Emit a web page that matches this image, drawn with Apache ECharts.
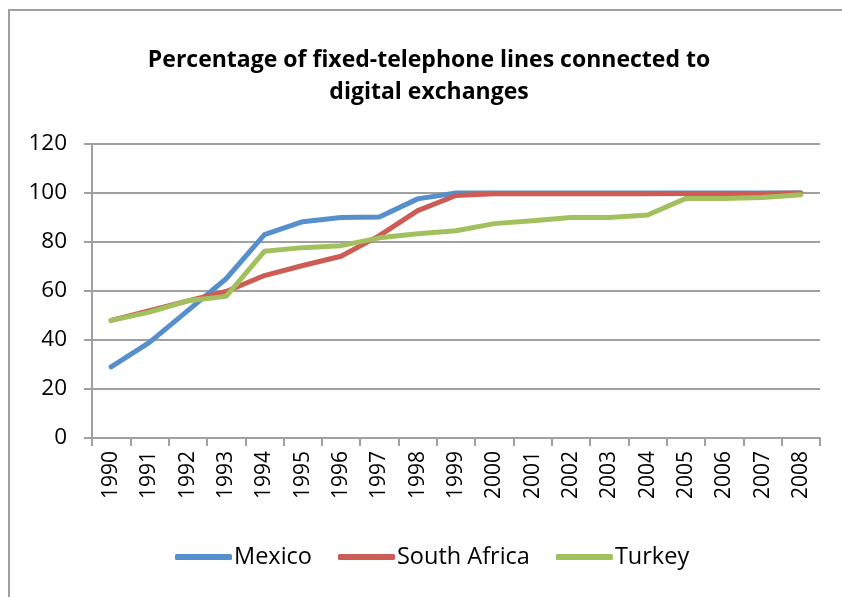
<!DOCTYPE html>
<html>
<head>
<meta charset="utf-8">
<script src="https://cdn.jsdelivr.net/npm/echarts@6/dist/echarts.min.js"></script>
<style>
  html, body { margin: 0; padding: 0; background: #fff; }
  #chart { width: 842px; height: 597px; }
</style>
</head>
<body>
<div id="chart"></div>
<script>
const years = ['1990', '1991', '1992', '1993', '1994', '1995', '1996', '1997', '1998', '1999',
  '2000', '2001', '2002', '2003', '2004', '2005', '2006', '2007', '2008']
const mexico = [29, 39, 52, 65, 83, 88.3, 90, 90.2, 97.6, 100, 100, 100, 100, 100, 100, 100, 100, 100, 100]
const southAfrica = [48, 52, 56, 59.8, 66.3, 70.4, 74.2, 82.6, 92.8, 99, 99.7, 99.7, 99.7, 99.7, 99.7, 99.8, 99.8, 99.8, 100]
const turkey = [48, 51.4, 56, 57.8, 76.2, 77.7, 78.5, 81.7, 83.4, 84.6, 87.5, 88.7, 90, 90, 91, 97.8, 97.8, 98.2, 99.3]
const yTicks = [0, 20, 40, 60, 80, 100, 120]

const font = '"Open Sans", Lato, sans-serif'
const gridColor = '#a0a0a0'
const colors = ['#5590cc', '#cd5c55', '#a2c15e']

const chart = echarts.init(document.getElementById('chart'), null, { renderer: 'canvas' })

function lineSeries(name, data, color) {
  return {
    name,
    type: 'line',
    data,
    symbol: 'none',
    smooth: false,
    lineStyle: { width: 5, color, cap: 'round', join: 'round' },
    itemStyle: { color }
  }
}

chart.setOption({
  animation: false,
  backgroundColor: '#fff',
  textStyle: { fontFamily: font },
  title: {
    text: 'Percentage of fixed-telephone lines connected to\ndigital exchanges',
    left: 424,
    top: 39,
    textAlign: 'center',
    textStyle: { fontFamily: font, fontWeight: 'bold', fontSize: 23, lineHeight: 32, color: '#000' }
  },
  legend: {
    left: 175,
    top: 545,
    padding: 0,
    icon: 'roundRect',
    itemWidth: 57,
    itemHeight: 6,
    itemGap: 26,
    textStyle: { fontFamily: font, fontSize: 23.5, color: '#000', padding: [0, 0, 0, -3] },
    data: ['Mexico', 'South Africa', 'Turkey']
  },
  grid: { left: 92, right: 22, top: 144, bottom: 159, containLabel: false },
  xAxis: {
    type: 'category',
    data: years,
    boundaryGap: true,
    axisLine: { lineStyle: { color: gridColor, width: 2 } },
    axisTick: { show: true, length: 8, alignWithLabel: false, lineStyle: { color: gridColor, width: 2 } },
    axisLabel: { interval: 0, rotate: 90, fontSize: 21, color: '#000', fontFamily: font, margin: 13 }
  },
  yAxis: {
    type: 'value',
    min: yTicks[0],
    max: yTicks[yTicks.length - 1],
    interval: 20,
    axisLine: { show: true, lineStyle: { color: gridColor, width: 2 } },
    axisTick: { show: true, length: 8, lineStyle: { color: gridColor, width: 2 } },
    axisLabel: { fontSize: 22.5, color: '#000', fontFamily: font, margin: 25 },
    splitLine: { lineStyle: { color: gridColor, width: 2 } }
  },
  graphic: [
    {
      type: 'polyline',
      shape: { points: [[9, 597], [9, 10], [842, 10]] },
      style: { stroke: '#a0a0a0', lineWidth: 2, fill: 'none' },
      silent: true
    }
  ],
  series: [
    lineSeries('Mexico', mexico, colors[0]),
    lineSeries('South Africa', southAfrica, colors[1]),
    lineSeries('Turkey', turkey, colors[2])
  ]
})
</script>
</body>
</html>
